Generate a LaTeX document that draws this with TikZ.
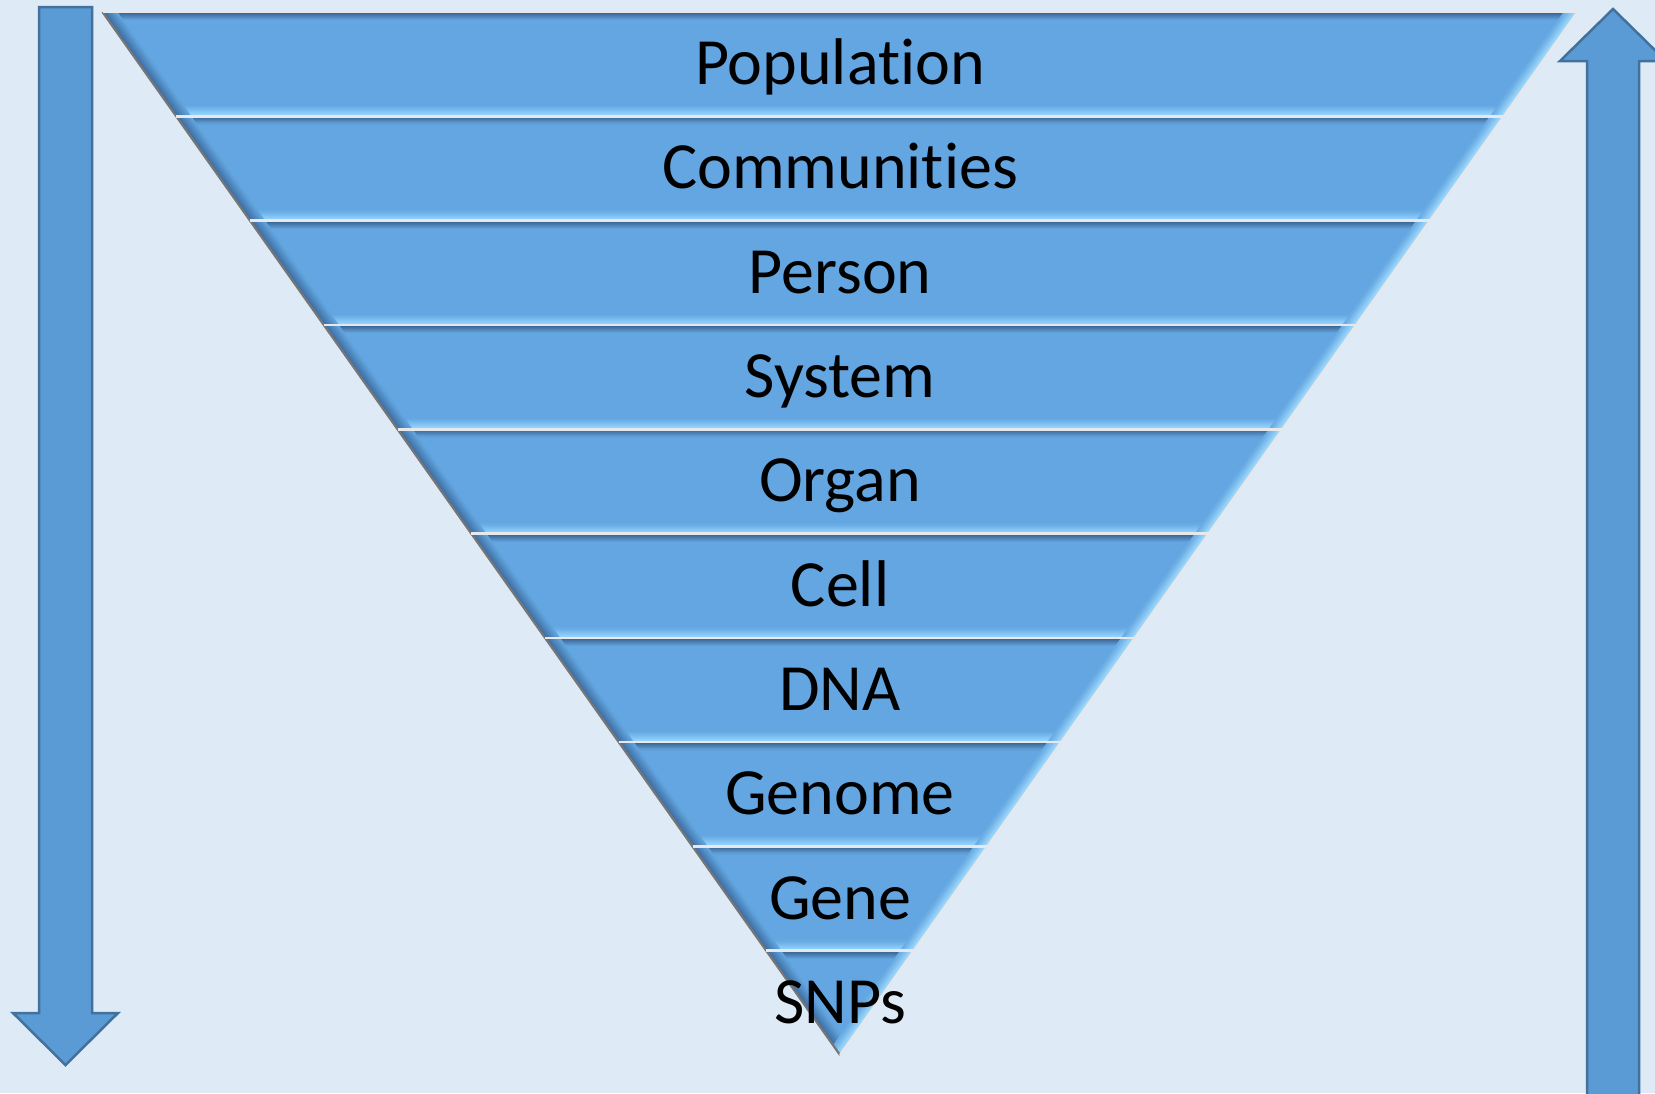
\documentclass[tikz,border=0pt]{standalone}
\usepackage{fontspec}
\setmainfont{Carlito}[Ligatures={NoCommon}]
\definecolor{bg}{RGB}{222,234,246}
\definecolor{arrowfill}{RGB}{91,155,213}
\definecolor{arrowline}{RGB}{65,113,156}
\definecolor{bandbase}{RGB}{99,166,225}
\definecolor{beveltop}{RGB}{55,95,140}
\definecolor{bevelbot}{RGB}{150,214,255}
\definecolor{bevelleft}{RGB}{58,104,155}
\definecolor{bevelright}{RGB}{165,222,255}
\definecolor{edgegray}{RGB}{118,118,118}
\definecolor{edgelight}{RGB}{230,232,235}
\begin{document}
\begin{tikzpicture}[x=1pt,y=-1pt,
  bigarrow/.style={fill=arrowfill,draw=arrowline,line width=2.5pt,line join=miter},
  bandtext/.style={font=\fontsize{66}{79}\selectfont, anchor=base, inner sep=0pt},
  sepline/.style={draw=edgelight,line width=2.6pt},
  leftline/.style={draw=edgegray,line width=2.2pt},
  rightline/.style={draw=edgelight,line width=2.2pt}]
\fill[bg] (0,0) rectangle (1655,1093);
\useasboundingbox (0,0) rectangle (1655,1093);
\clip (0,0) rectangle (1655,1093);
% arrows
\draw[bigarrow] (39,7) -- (92,7) -- (92,1013) -- (118,1013) -- (65.5,1065) -- (13,1013) -- (39,1013) -- cycle;
\draw[bigarrow] (1587,1110) -- (1587,61) -- (1560,61) -- (1613,9) -- (1666,61) -- (1639,61) -- (1639,1110) -- cycle;
% bands
\foreach \i in {0,...,9} {
  \pgfmathsetmacro\yt{12+104.3*\i}
  \pgfmathsetmacro\yb{\yt+104.3}
  \pgfmathsetmacro\ht{0.70709*(1055-\yt)}
  \pgfmathsetmacro\hb{max(0,0.70709*(1055-\yb))}
  \begin{scope}
    \clip (840-\ht,\yt) -- (840+\ht,\yt) -- (840+\hb,\yb) -- (840-\hb,\yb) -- cycle;
    \fill[bandbase] (840-\ht,\yt-1) rectangle (840+\ht,\yb+1);
    % top bevel (dark)
    \foreach \j in {0,...,7} {
      \pgfmathtruncatemacro\p{100-\j*13}
      \draw[beveltop!\p!bandbase, line width=1.4pt] (840-\ht,\yt+0.7+\j) -- (840+\ht,\yt+0.7+\j);
    }
    % bottom bevel (light)
    \foreach \j in {0,...,9} {
      \pgfmathtruncatemacro\p{100-\j*10}
      \draw[bevelbot!\p!bandbase, line width=1.4pt] (840-\ht,\yb-0.7-\j) -- (840+\ht,\yb-0.7-\j);
    }
    % left bevel (dark)
    \foreach \j in {0,...,11} {
      \pgfmathtruncatemacro\p{95-\j*8}
      \pgfmathsetmacro\h{\j*1.2247}
      \draw[bevelleft!\p!bandbase, line width=1.5pt] (840-\ht+\h+0.8,\yt) -- (840-\hb+\h+0.8,\yb);
    }
    % right bevel (light)
    \foreach \j in {0,...,10} {
      \pgfmathtruncatemacro\p{100-\j*9}
      \pgfmathsetmacro\h{\j*1.2247}
      \draw[bevelright!\p!bandbase, line width=1.5pt] (840+\ht-\h-0.8,\yt) -- (840+\hb-\h-0.8,\yb);
    }
  \end{scope}
  \draw[leftline] (840-\ht,\yt) -- (840-\hb,\yb);
  \draw[rightline] (840+\ht,\yt) -- (840+\hb,\yb);
  \draw[sepline] (840-\ht,\yt) -- (840+\ht,\yt);
}
% labels
\foreach \i/\txt in {0/Population,1/Communities,2/Person,3/System,4/Organ,5/Cell,6/DNA,7/Genome,8/Gene,9/SNPs} {
  \pgfmathsetmacro\yc{12+104.3*\i+52.15+20.5}
  \node[bandtext] (t\i) at (840,\yc) {\txt};
}
\end{tikzpicture}
\end{document}
